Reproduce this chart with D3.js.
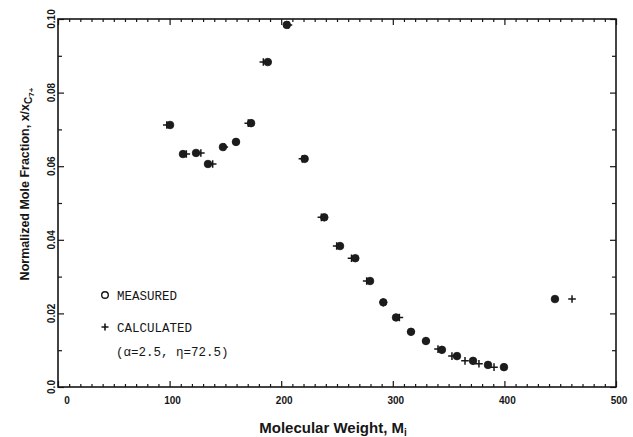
<!DOCTYPE html>
<html>
<head>
<meta charset="utf-8">
<script src="https://cdn.jsdelivr.net/npm/d3@7"></script>
<style>
  html, body { margin: 0; padding: 0; background: #fff; }
  svg { display: block; }
</style>
</head>
<body>
<script>
// ---- data ----
const measuredMW = [100.4, 112, 123.7, 134.4, 147.8, 159.5, 173, 188, 205, 221, 238.6, 252.7, 266.4, 279.6, 291.5, 302.9, 316.3, 329.7, 344, 357.5, 371.9, 385.3, 399.6, 445.3];
const measuredX  = [0.0712, 0.0633, 0.0636, 0.0606, 0.0652, 0.0666, 0.0717, 0.0883, 0.0984, 0.0620, 0.0461, 0.0383, 0.0350, 0.0288, 0.0230, 0.0189, 0.0150, 0.0125, 0.0101, 0.0084, 0.0071, 0.0060, 0.0054, 0.0239];
const calcMW = [97.5, 115, 128, 138.6, 149, 159.5, 170.5, 184, 206.5, 219, 236, 249.7, 263, 276.6, 291.5, 305.9, 316.3, 329.7, 340.5, 353, 364.7, 377.2, 390.7, 460.6];
const calcX  = [0.0712, 0.0633, 0.0636, 0.0606, 0.0652, 0.0666, 0.0717, 0.0883, 0.0984, 0.0620, 0.0461, 0.0383, 0.0350, 0.0288, 0.0230, 0.0189, 0.0150, 0.0125, 0.0103, 0.0084, 0.0071, 0.0063, 0.0054, 0.0239];
const xTickValues = [0, 100, 200, 300, 400, 500];
const xTickLabels = ["0", "100", "200", "300", "400", "500"];
const yTickValues = [0, 0.02, 0.04, 0.06, 0.08, 0.10];
const yTickLabels = ["0.0", "0.02", "0.04", "0.06", "0.08", "0.10"];
const legendLabels = ["MEASURED", "CALCULATED", "(\u03b1=2.5, \u03b7=72.5)"];

// ---- layout ----
const W = 633, H = 437;
const L = 58, R = 616, T = 19, B = 387;
const ink = "#161616";

const svg = d3.select("body").append("svg").attr("width", W).attr("height", H);

const x = d3.scaleLinear().domain([0, 500]).range([L, R]);
const y = d3.scaleLinear().domain([0, 0.10]).range([B, T]);

const xMinor = d3.range(0, 501, 10).filter(v => v % 100 !== 0);
const yMinor = d3.range(1, 10, 2).map(v => v / 100);

function styleAxis(g) {
  g.select(".domain").remove();
  g.selectAll("line").attr("stroke", ink).attr("stroke-width", 1.2);
  g.selectAll("text").remove();
}

// bottom
svg.append("g").attr("transform", `translate(0,${B})`)
  .call(d3.axisBottom(x).tickValues(xTickValues).tickSize(-6)).call(styleAxis);
svg.append("g").attr("transform", `translate(0,${B})`)
  .call(d3.axisBottom(x).tickValues(xMinor).tickSize(-3)).call(styleAxis);
// top
svg.append("g").attr("transform", `translate(0,${T})`)
  .call(d3.axisTop(x).tickValues(xTickValues).tickSize(-6)).call(styleAxis);
svg.append("g").attr("transform", `translate(0,${T})`)
  .call(d3.axisTop(x).tickValues(xMinor).tickSize(-3)).call(styleAxis);
// left
svg.append("g").attr("transform", `translate(${L},0)`)
  .call(d3.axisLeft(y).tickValues(yTickValues).tickSize(-6)).call(styleAxis);
svg.append("g").attr("transform", `translate(${L},0)`)
  .call(d3.axisLeft(y).tickValues(yMinor).tickSize(-4)).call(styleAxis);
// right
svg.append("g").attr("transform", `translate(${R},0)`)
  .call(d3.axisRight(y).tickValues(yTickValues).tickSize(-6)).call(styleAxis);
svg.append("g").attr("transform", `translate(${R},0)`)
  .call(d3.axisRight(y).tickValues(yMinor).tickSize(-4)).call(styleAxis);

// frame
svg.append("rect").attr("x", L).attr("y", T).attr("width", R - L).attr("height", B - T)
  .attr("fill", "none").attr("stroke", ink).attr("stroke-width", 1.6);

// tick labels
svg.append("g").selectAll("text").data(xTickValues).join("text")
  .attr("x", (d, i) => x(d) + (i === 0 ? 9 : 3))
  .attr("y", 404)
  .attr("text-anchor", "middle")
  .attr("font-family", "Liberation Sans, Arial, sans-serif")
  .attr("font-weight", "bold").attr("font-size", 10).attr("fill", ink)
  .text((d, i) => xTickLabels[i]);

svg.append("g").selectAll("text").data(yTickValues).join("text")
  .attr("transform", d => `translate(55,${y(d)}) rotate(-90)`)
  .attr("text-anchor", "middle")
  .attr("font-family", "Liberation Sans, Arial, sans-serif")
  .attr("font-weight", "bold").attr("font-size", 10).attr("fill", ink)
  .text((d, i) => yTickLabels[i]);

// axis titles
const xt = svg.append("text").attr("x", 333).attr("y", 433).attr("text-anchor", "middle")
  .attr("font-family", "Liberation Sans, Arial, sans-serif").attr("font-weight", "bold")
  .attr("font-size", 15).attr("fill", ink);
xt.append("tspan").text("Molecular Weight, M");
xt.append("tspan").attr("dy", 3).attr("font-size", 10).text("i");

const yt = svg.append("text").attr("transform", "translate(29,184) rotate(-90)")
  .attr("text-anchor", "middle")
  .attr("font-family", "Liberation Sans, Arial, sans-serif").attr("font-weight", "bold")
  .attr("font-size", 12.5).attr("fill", ink);
yt.append("tspan").text("Normalized Mole Fraction, x/x");
yt.append("tspan").attr("dy", 3).attr("font-size", 10).text("C");
yt.append("tspan").attr("dy", 2).attr("font-size", 8).text("7+");

// data: calculated (+)
const calc = calcMW.map((m, i) => ({ m, v: calcX[i] }));
const meas = measuredMW.map((m, i) => ({ m, v: measuredX[i] }));
const ps = 3.8;
svg.append("g").selectAll("path").data(calc).join("path")
  .attr("d", d => `M${x(d.m) - ps},${y(d.v)}H${x(d.m) + ps}M${x(d.m)},${y(d.v) - ps}V${y(d.v) + ps}`)
  .attr("stroke", ink).attr("stroke-width", 1.5).attr("fill", "none");
// measured (o)
svg.append("g").selectAll("circle").data(meas).join("circle")
  .attr("cx", d => x(d.m)).attr("cy", d => y(d.v)).attr("r", 3.8)
  .attr("fill", "#1c1c1c").attr("stroke", ink).attr("stroke-width", 0.8);

// legend
const lg = svg.append("g").attr("font-family", "Liberation Mono, DejaVu Sans Mono, monospace")
  .attr("font-size", 12.5).attr("fill", ink);
lg.append("circle").attr("cx", 105).attr("cy", 295).attr("r", 3.3)
  .attr("fill", "none").attr("stroke", ink).attr("stroke-width", 1.4);
lg.append("text").attr("x", 117).attr("y", 299.5).text(legendLabels[0]);
lg.append("path").attr("d", "M101.5,327H108.5M105,323.5V330.5")
  .attr("stroke", ink).attr("stroke-width", 1.6);
lg.append("text").attr("x", 117).attr("y", 331.5).text(legendLabels[1]);
lg.append("text").attr("x", 116).attr("y", 355.5).text(legendLabels[2]);
</script>
</body>
</html>
